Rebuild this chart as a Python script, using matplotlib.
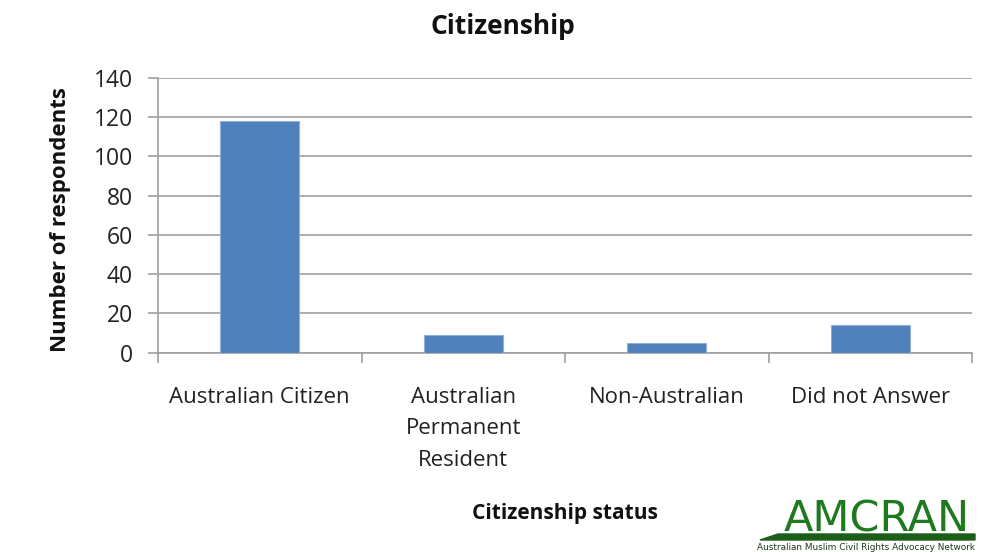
import matplotlib
matplotlib.use("Agg")
import matplotlib.pyplot as plt
from matplotlib.patches import Polygon

categories = ["Australian Citizen", "Australian\nPermanent\nResident", "Non-Australian", "Did not Answer"]
respondents = [118, 9, 5, 14]
y_ticks = [0, 20, 40, 60, 80, 100, 120, 140]

plt.rcParams['font.family'] = ['Open Sans', 'DejaVu Sans']

W, H = 982, 552
fig = plt.figure(figsize=(W / 100, H / 100), dpi=100)
ax = fig.add_axes([158 / W, 1 - 352.5 / H, 814 / W, 274.5 / H])

x = range(len(categories))
ax.bar(x, respondents, width=0.39, color="#4f81bd", edgecolor="#8fb0dc", linewidth=0.8, zorder=3)

ax.set_xlim(-0.5, len(categories) - 0.5)
ax.set_ylim(0, 140)
ax.set_yticks(y_ticks)
ax.set_yticklabels([str(v) for v in y_ticks], fontsize=16.5, color="#222222")
ax.yaxis.grid(True, color="#a0a0a0", linewidth=1.2, zorder=0)

ax.set_xticks([i - 0.5 for i in range(len(categories) + 1)])
ax.set_xticklabels([])
ax.tick_params(axis="x", length=7, color="#a0a0a0", width=1.2, direction="out")
ax.tick_params(axis="y", length=7, color="#a0a0a0", width=1.2, direction="out", pad=11)
for i, label in enumerate(categories):
    ax.text(i, -17.5, label, ha="center", va="top", fontsize=16, color="#222222",
            linespacing=1.65, transform=ax.transData)

for side in ["top", "right"]:
    ax.spines[side].set_visible(False)
for side in ["left", "bottom"]:
    ax.spines[side].set_color("#a0a0a0")
    ax.spines[side].set_linewidth(1.2)

fig.text(61 / W, 1 - 220 / H, "Number of respondents", rotation=90, ha="center", va="center",
         fontsize=16, fontweight="bold", color="#111111")
fig.text(503 / W, 1 - 27 / H, "Citizenship", ha="center", va="center",
         fontsize=19, fontweight="bold", color="#111111")
fig.text(565 / W, 1 - 513 / H, "Citizenship status", ha="center", va="center",
         fontsize=15, fontweight="bold", color="#111111")

# AMCRAN logo
green = "#1f7a1f"
fig.text(877 / W, 1 - 519 / H, "AMCRAN", ha="center", va="center", fontsize=31,
         color=green, family="DejaVu Sans")
fig.add_artist(Polygon([[760 / W, 1 - 540 / H], [778 / W, 1 - 534 / H],
                        [975 / W, 1 - 534 / H], [975 / W, 1 - 540 / H]],
                       closed=True, transform=fig.transFigure, color="#1a5e1a"))
fig.text(757 / W, 1 - 547 / H, "Australian Muslim Civil Rights Advocacy Network",
         ha="left", va="center", fontsize=6.4, color="#1a3a1a", family="DejaVu Sans")

fig.savefig("out.png", dpi=100, facecolor="white")
